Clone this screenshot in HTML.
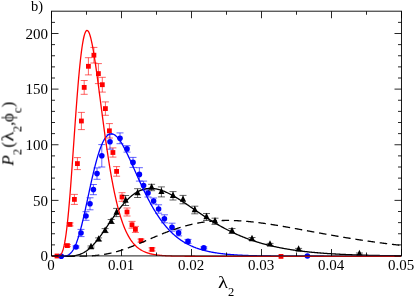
<!DOCTYPE html>
<html><head><meta charset="utf-8"><style>
html,body{margin:0;padding:0;background:#fff;}
body{width:415px;height:296px;position:relative;overflow:hidden;font-family:"Liberation Serif",serif;color:#000;}
.t{position:absolute;will-change:transform;font-size:15px;line-height:15px;white-space:nowrap;}
.yl{text-align:right;width:40px;left:7.5px;}
.xl{text-align:center;width:40px;}
sub{font-size:12.5px;line-height:0;vertical-align:baseline;position:relative;top:7.7px;}
.lam{display:inline-block;transform:scaleX(1.22);transform-origin:0 50%;margin-right:1.7px;}
</style></head><body>
<svg width="415" height="296" viewBox="0 0 415 296" style="position:absolute;left:0;top:0"><defs><clipPath id="c"><rect x="48.5" y="11.2" width="356.0" height="248.8"/></clipPath></defs><g clip-path="url(#c)"><path d="M67.4 244.6V246.6M63.9 244.6h7M63.9 246.6h7" stroke="#f00" stroke-width="0.62" fill="none"/><path d="M70.0 222.9V225.9M66.5 222.9h7M66.5 225.9h7" stroke="#f00" stroke-width="0.62" fill="none"/><path d="M74.4 194.4V204.4M70.9 194.4h7M70.9 204.4h7" stroke="#f00" stroke-width="0.62" fill="none"/><path d="M77.4 157.6V169.6M73.9 157.6h7M73.9 169.6h7" stroke="#f00" stroke-width="0.62" fill="none"/><path d="M81.4 112.4V129.6M77.9 112.4h7M77.9 129.6h7" stroke="#f00" stroke-width="0.62" fill="none"/><path d="M84.2 80.5V94.3M80.7 80.5h7M80.7 94.3h7" stroke="#f00" stroke-width="0.62" fill="none"/><path d="M88.4 57.7V74.9M84.9 57.7h7M84.9 74.9h7" stroke="#f00" stroke-width="0.62" fill="none"/><path d="M93.9 47.4V63.0M90.4 47.4h7M90.4 63.0h7" stroke="#f00" stroke-width="0.62" fill="none"/><path d="M98.4 63.6V83.6M94.9 63.6h7M94.9 83.6h7" stroke="#f00" stroke-width="0.62" fill="none"/><path d="M102.3 77.3V92.1M98.8 77.3h7M98.8 92.1h7" stroke="#f00" stroke-width="0.62" fill="none"/><path d="M105.4 101.9V115.3M101.9 101.9h7M101.9 115.3h7" stroke="#f00" stroke-width="0.62" fill="none"/><path d="M109.4 123.6V138.0M105.9 123.6h7M105.9 138.0h7" stroke="#f00" stroke-width="0.62" fill="none"/><path d="M112.9 147.9V157.1M109.4 147.9h7M109.4 157.1h7" stroke="#f00" stroke-width="0.62" fill="none"/><path d="M116.6 166.6V176.2M113.1 166.6h7M113.1 176.2h7" stroke="#f00" stroke-width="0.62" fill="none"/><path d="M122.0 192.7V201.3M118.5 192.7h7M118.5 201.3h7" stroke="#f00" stroke-width="0.62" fill="none"/><path d="M127.0 208.0V216.0M123.5 208.0h7M123.5 216.0h7" stroke="#f00" stroke-width="0.62" fill="none"/><path d="M132.0 221.4V228.2M128.5 221.4h7M128.5 228.2h7" stroke="#f00" stroke-width="0.62" fill="none"/><path d="M135.4 226.4V232.4M131.9 226.4h7M131.9 232.4h7" stroke="#f00" stroke-width="0.62" fill="none"/><path d="M141.0 239.1V242.1M137.5 239.1h7M137.5 242.1h7" stroke="#f00" stroke-width="0.62" fill="none"/><path d="M152.0 247.9V250.9M148.5 247.9h7M148.5 250.9h7" stroke="#f00" stroke-width="0.62" fill="none"/><rect x="54.6" y="253.6" width="4.8" height="4.8" fill="#f00"/><rect x="65.0" y="243.2" width="4.8" height="4.8" fill="#f00"/><rect x="67.6" y="222.0" width="4.8" height="4.8" fill="#f00"/><rect x="72.0" y="197.0" width="4.8" height="4.8" fill="#f00"/><rect x="75.0" y="161.2" width="4.8" height="4.8" fill="#f00"/><rect x="79.0" y="118.6" width="4.8" height="4.8" fill="#f00"/><rect x="81.8" y="85.0" width="4.8" height="4.8" fill="#f00"/><rect x="86.0" y="63.9" width="4.8" height="4.8" fill="#f00"/><rect x="91.5" y="52.8" width="4.8" height="4.8" fill="#f00"/><rect x="96.0" y="71.2" width="4.8" height="4.8" fill="#f00"/><rect x="99.9" y="82.3" width="4.8" height="4.8" fill="#f00"/><rect x="103.0" y="106.2" width="4.8" height="4.8" fill="#f00"/><rect x="107.0" y="128.4" width="4.8" height="4.8" fill="#f00"/><rect x="110.5" y="150.1" width="4.8" height="4.8" fill="#f00"/><rect x="114.2" y="169.0" width="4.8" height="4.8" fill="#f00"/><rect x="119.6" y="194.6" width="4.8" height="4.8" fill="#f00"/><rect x="124.6" y="209.6" width="4.8" height="4.8" fill="#f00"/><rect x="129.6" y="222.4" width="4.8" height="4.8" fill="#f00"/><rect x="133.0" y="227.0" width="4.8" height="4.8" fill="#f00"/><rect x="138.6" y="238.2" width="4.8" height="4.8" fill="#f00"/><rect x="149.6" y="247.0" width="4.8" height="4.8" fill="#f00"/><rect x="278.6" y="254.0" width="4.8" height="4.8" fill="#f00"/><path d="M76.0 246.0V248.0M72.5 246.0h7M72.5 248.0h7" stroke="#00f" stroke-width="0.62" fill="none"/><path d="M81.0 229.4V236.6M77.5 229.4h7M77.5 236.6h7" stroke="#00f" stroke-width="0.62" fill="none"/><path d="M86.0 211.7V220.3M82.5 211.7h7M82.5 220.3h7" stroke="#00f" stroke-width="0.62" fill="none"/><path d="M90.0 197.8V209.8M86.5 197.8h7M86.5 209.8h7" stroke="#00f" stroke-width="0.62" fill="none"/><path d="M93.4 184.5V194.7M89.9 184.5h7M89.9 194.7h7" stroke="#00f" stroke-width="0.62" fill="none"/><path d="M97.0 167.9V179.3M93.5 167.9h7M93.5 179.3h7" stroke="#00f" stroke-width="0.62" fill="none"/><path d="M101.8 144.6V167.0M98.3 144.6h7M98.3 167.0h7" stroke="#00f" stroke-width="0.62" fill="none"/><path d="M110.0 134.4V149.2M106.5 134.4h7M106.5 149.2h7" stroke="#00f" stroke-width="0.62" fill="none"/><path d="M120.0 132.9V143.7M116.5 132.9h7M116.5 143.7h7" stroke="#00f" stroke-width="0.62" fill="none"/><path d="M127.0 145.7V152.1M123.5 145.7h7M123.5 152.1h7" stroke="#00f" stroke-width="0.62" fill="none"/><path d="M133.0 157.4V167.4M129.5 157.4h7M129.5 167.4h7" stroke="#00f" stroke-width="0.62" fill="none"/><path d="M139.4 167.7V181.1M135.9 167.7h7M135.9 181.1h7" stroke="#00f" stroke-width="0.62" fill="none"/><path d="M143.6 181.1V190.1M140.1 181.1h7M140.1 190.1h7" stroke="#00f" stroke-width="0.62" fill="none"/><path d="M148.0 189.0V197.0M144.5 189.0h7M144.5 197.0h7" stroke="#00f" stroke-width="0.62" fill="none"/><path d="M153.6 198.0V204.0M150.1 198.0h7M150.1 204.0h7" stroke="#00f" stroke-width="0.62" fill="none"/><path d="M158.6 204.8V213.2M155.1 204.8h7M155.1 213.2h7" stroke="#00f" stroke-width="0.62" fill="none"/><path d="M164.4 214.8V222.8M160.9 214.8h7M160.9 222.8h7" stroke="#00f" stroke-width="0.62" fill="none"/><path d="M172.0 223.2V231.2M168.5 223.2h7M168.5 231.2h7" stroke="#00f" stroke-width="0.62" fill="none"/><path d="M178.6 229.9V235.9M175.1 229.9h7M175.1 235.9h7" stroke="#00f" stroke-width="0.62" fill="none"/><path d="M188.0 239.4V243.4M184.5 239.4h7M184.5 243.4h7" stroke="#00f" stroke-width="0.62" fill="none"/><path d="M203.8 246.9V248.9M200.3 246.9h7M200.3 248.9h7" stroke="#00f" stroke-width="0.62" fill="none"/><circle cx="61.3" cy="256.3" r="2.8" fill="#00f"/><circle cx="76.0" cy="247.0" r="2.8" fill="#00f"/><circle cx="81.0" cy="233.0" r="2.8" fill="#00f"/><circle cx="86.0" cy="216.0" r="2.8" fill="#00f"/><circle cx="90.0" cy="203.8" r="2.8" fill="#00f"/><circle cx="93.4" cy="189.6" r="2.8" fill="#00f"/><circle cx="97.0" cy="173.6" r="2.8" fill="#00f"/><circle cx="101.8" cy="155.8" r="2.8" fill="#00f"/><circle cx="110.0" cy="141.8" r="2.8" fill="#00f"/><circle cx="120.0" cy="138.3" r="2.8" fill="#00f"/><circle cx="127.0" cy="148.9" r="2.8" fill="#00f"/><circle cx="133.0" cy="162.4" r="2.8" fill="#00f"/><circle cx="139.4" cy="174.4" r="2.8" fill="#00f"/><circle cx="143.6" cy="185.6" r="2.8" fill="#00f"/><circle cx="148.0" cy="193.0" r="2.8" fill="#00f"/><circle cx="153.6" cy="201.0" r="2.8" fill="#00f"/><circle cx="158.6" cy="209.0" r="2.8" fill="#00f"/><circle cx="164.4" cy="218.8" r="2.8" fill="#00f"/><circle cx="172.0" cy="227.2" r="2.8" fill="#00f"/><circle cx="178.6" cy="232.9" r="2.8" fill="#00f"/><circle cx="188.0" cy="241.4" r="2.8" fill="#00f"/><circle cx="203.8" cy="247.9" r="2.8" fill="#00f"/><circle cx="307.4" cy="256.0" r="2.8" fill="#00f"/><path d="M91.0 246.0V248.0M87.5 246.0h7M87.5 248.0h7" stroke="#000" stroke-width="0.62" fill="none"/><path d="M98.6 237.9V240.9M95.1 237.9h7M95.1 240.9h7" stroke="#000" stroke-width="0.62" fill="none"/><path d="M105.1 228.6V232.6M101.6 228.6h7M101.6 232.6h7" stroke="#000" stroke-width="0.62" fill="none"/><path d="M111.2 219.5V223.5M107.7 219.5h7M107.7 223.5h7" stroke="#000" stroke-width="0.62" fill="none"/><path d="M116.6 208.4V216.6M113.1 208.4h7M113.1 216.6h7" stroke="#000" stroke-width="0.62" fill="none"/><path d="M125.6 195.5V205.5M122.1 195.5h7M122.1 205.5h7" stroke="#000" stroke-width="0.62" fill="none"/><path d="M137.6 188.7V197.5M134.1 188.7h7M134.1 197.5h7" stroke="#000" stroke-width="0.62" fill="none"/><path d="M151.6 184.3V190.7M148.1 184.3h7M148.1 190.7h7" stroke="#000" stroke-width="0.62" fill="none"/><path d="M161.4 186.9V196.9M157.9 186.9h7M157.9 196.9h7" stroke="#000" stroke-width="0.62" fill="none"/><path d="M173.0 191.6V200.0M169.5 191.6h7M169.5 200.0h7" stroke="#000" stroke-width="0.62" fill="none"/><path d="M183.0 195.4V203.8M179.5 195.4h7M179.5 203.8h7" stroke="#000" stroke-width="0.62" fill="none"/><path d="M194.8 206.2V213.8M191.3 206.2h7M191.3 213.8h7" stroke="#000" stroke-width="0.62" fill="none"/><path d="M206.5 213.5V220.5M203.0 213.5h7M203.0 220.5h7" stroke="#000" stroke-width="0.62" fill="none"/><path d="M215.0 218.2V224.4M211.5 218.2h7M211.5 224.4h7" stroke="#000" stroke-width="0.62" fill="none"/><path d="M232.0 228.5V233.5M228.5 228.5h7M228.5 233.5h7" stroke="#000" stroke-width="0.62" fill="none"/><path d="M252.0 237.5V240.5M248.5 237.5h7M248.5 240.5h7" stroke="#000" stroke-width="0.62" fill="none"/><path d="M270.0 243.4V245.4M266.5 243.4h7M266.5 245.4h7" stroke="#000" stroke-width="0.62" fill="none"/><path d="M298.6 248.4V250.4M295.1 248.4h7M295.1 250.4h7" stroke="#000" stroke-width="0.62" fill="none"/><path d="M359.4 253.0V255.0M355.9 253.0h7M355.9 255.0h7" stroke="#000" stroke-width="0.62" fill="none"/><path d="M91.0 242.8l3.1 6.4h-6.2z" fill="#000"/><path d="M98.6 235.2l3.1 6.4h-6.2z" fill="#000"/><path d="M105.1 226.4l3.1 6.4h-6.2z" fill="#000"/><path d="M111.2 217.3l3.1 6.4h-6.2z" fill="#000"/><path d="M116.6 208.3l3.1 6.4h-6.2z" fill="#000"/><path d="M125.6 196.3l3.1 6.4h-6.2z" fill="#000"/><path d="M137.6 188.9l3.1 6.4h-6.2z" fill="#000"/><path d="M151.6 183.3l3.1 6.4h-6.2z" fill="#000"/><path d="M161.4 187.7l3.1 6.4h-6.2z" fill="#000"/><path d="M173.0 191.6l3.1 6.4h-6.2z" fill="#000"/><path d="M183.0 195.4l3.1 6.4h-6.2z" fill="#000"/><path d="M194.8 205.8l3.1 6.4h-6.2z" fill="#000"/><path d="M206.5 212.8l3.1 6.4h-6.2z" fill="#000"/><path d="M215.0 217.1l3.1 6.4h-6.2z" fill="#000"/><path d="M232.0 226.8l3.1 6.4h-6.2z" fill="#000"/><path d="M252.0 234.8l3.1 6.4h-6.2z" fill="#000"/><path d="M270.0 240.2l3.1 6.4h-6.2z" fill="#000"/><path d="M298.6 245.2l3.1 6.4h-6.2z" fill="#000"/><path d="M359.4 249.8l3.1 6.4h-6.2z" fill="#000"/><path d="M52.00 256.30L52.03 256.30L52.53 256.30L53.03 256.30L53.53 256.30L54.03 256.30L54.53 256.30L55.03 256.30L55.53 256.30L56.03 256.30L56.53 256.30L57.03 256.30L57.53 256.30L58.03 256.30L58.52 256.30L59.02 256.30L59.52 256.30L60.02 256.30L60.52 256.30L61.02 256.30L61.52 256.30L62.02 256.30L62.52 256.30L63.02 256.30L63.52 256.30L64.02 256.30L64.52 256.30L65.02 256.30L65.51 256.30L66.01 256.30L66.51 256.30L67.01 256.30L67.51 256.30L68.01 256.30L68.51 256.30L69.01 256.30L69.51 256.30L70.01 256.30L70.51 256.30L71.01 256.29L71.51 256.29L72.00 256.29L72.50 256.29L73.00 256.29L73.50 256.29L74.00 256.29L74.50 256.28L75.00 256.28L75.50 256.28L76.00 256.27L76.50 256.27L77.00 256.27L77.50 256.26L78.00 256.26L78.49 256.25L78.99 256.25L79.49 256.24L79.99 256.23L80.49 256.22L80.99 256.22L81.49 256.21L81.99 256.20L82.49 256.19L82.99 256.18L83.49 256.16L83.99 256.15L84.49 256.14L84.98 256.12L85.48 256.10L85.98 256.09L86.48 256.07L86.98 256.05L87.48 256.03L87.98 256.01L88.48 255.98L88.98 255.96L89.48 255.93L89.98 255.91L90.48 255.88L90.98 255.85L91.47 255.81L91.97 255.78L92.47 255.75L92.97 255.71L93.47 255.67L93.97 255.63L94.47 255.59L94.97 255.55L95.47 255.50L95.97 255.45L96.47 255.41L96.97 255.36L97.47 255.30L97.96 255.25L98.46 255.19L98.96 255.13L99.46 255.07L99.96 255.01L100.46 254.94L100.96 254.88L101.46 254.81L101.96 254.74L102.46 254.66L102.96 254.59L103.46 254.51L103.96 254.43L104.45 254.35L104.95 254.26L105.45 254.17L105.95 254.08L106.45 253.99L106.95 253.90L107.45 253.80L107.95 253.70L108.45 253.60L108.95 253.50L109.45 253.39L109.95 253.29L110.45 253.18L110.94 253.06L111.44 252.95L111.94 252.83L112.44 252.71L112.94 252.59L113.44 252.47L113.94 252.34L114.44 252.21L114.94 252.08L115.44 251.95L115.94 251.82L116.44 251.68L116.94 251.54L117.43 251.40L117.93 251.26L118.43 251.11L118.93 250.96L119.43 250.81L119.93 250.66L120.43 250.51L120.93 250.35L121.43 250.19L121.93 250.03L122.43 249.87L122.93 249.71L123.43 249.54L123.92 249.37L124.42 249.20L124.92 249.03L125.42 248.86L125.92 248.69L126.42 248.51L126.92 248.33L127.42 248.15L127.92 247.97L128.42 247.79L128.92 247.61L129.42 247.42L129.92 247.23L130.41 247.04L130.91 246.85L131.41 246.66L131.91 246.47L132.41 246.28L132.91 246.08L133.41 245.89L133.91 245.69L134.41 245.49L134.91 245.29L135.41 245.09L135.91 244.89L136.41 244.69L136.90 244.48L137.40 244.28L137.90 244.07L138.40 243.87L138.90 243.66L139.40 243.45L139.90 243.25L140.40 243.04L140.90 242.83L141.40 242.62L141.90 242.41L142.40 242.20L142.90 241.99L143.39 241.78L143.89 241.56L144.39 241.35L144.89 241.14L145.39 240.93L145.89 240.71L146.39 240.50L146.89 240.29L147.39 240.07L147.89 239.86L148.39 239.65L148.89 239.43L149.39 239.22L149.88 239.01L150.38 238.79L150.88 238.58L151.38 238.37L151.88 238.16L152.38 237.94L152.88 237.73L153.38 237.52L153.88 237.31L154.38 237.10L154.88 236.89L155.38 236.68L155.88 236.47L156.37 236.26L156.87 236.05L157.37 235.85L157.87 235.64L158.37 235.43L158.87 235.23L159.37 235.02L159.87 234.82L160.37 234.62L160.87 234.41L161.37 234.21L161.87 234.01L162.37 233.81L162.87 233.61L163.36 233.41L163.86 233.22L164.36 233.02L164.86 232.83L165.36 232.63L165.86 232.44L166.36 232.25L166.86 232.06L167.36 231.87L167.86 231.68L168.36 231.49L168.86 231.31L169.36 231.12L169.85 230.94L170.35 230.76L170.85 230.58L171.35 230.40L171.85 230.22L172.35 230.04L172.85 229.87L173.35 229.69L173.85 229.52L174.35 229.35L174.85 229.18L175.35 229.01L175.85 228.84L176.34 228.68L176.84 228.51L177.34 228.35L177.84 228.19L178.34 228.03L178.84 227.87L179.34 227.72L179.84 227.56L180.34 227.41L180.84 227.26L181.34 227.11L181.84 226.96L182.34 226.81L182.83 226.66L183.33 226.52L183.83 226.38L184.33 226.24L184.83 226.10L185.33 225.96L185.83 225.83L186.33 225.69L186.83 225.56L187.33 225.43L187.83 225.30L188.33 225.18L188.83 225.05L189.32 224.93L189.82 224.81L190.32 224.69L190.82 224.57L191.32 224.45L191.82 224.34L192.32 224.22L192.82 224.11L193.32 224.00L193.82 223.89L194.32 223.79L194.82 223.68L195.32 223.58L195.81 223.48L196.31 223.38L196.81 223.28L197.31 223.19L197.81 223.09L198.31 223.00L198.81 222.91L199.31 222.82L199.81 222.73L200.31 222.65L200.81 222.56L201.31 222.48L201.81 222.40L202.30 222.32L202.80 222.25L203.30 222.17L203.80 222.10L204.30 222.02L204.80 221.95L205.30 221.89L205.80 221.82L206.30 221.75L206.80 221.69L207.30 221.63L207.80 221.57L208.30 221.51L208.79 221.45L209.29 221.40L209.79 221.35L210.29 221.29L210.79 221.24L211.29 221.20L211.79 221.15L212.29 221.10L212.79 221.06L213.29 221.02L213.79 220.98L214.29 220.94L214.79 220.90L215.28 220.86L215.78 220.83L216.28 220.80L216.78 220.77L217.28 220.74L217.78 220.71L218.28 220.68L218.78 220.66L219.28 220.63L219.78 220.61L220.28 220.59L220.78 220.57L221.28 220.55L221.77 220.54L222.27 220.52L222.77 220.51L223.27 220.50L223.77 220.49L224.27 220.48L224.77 220.47L225.27 220.46L225.77 220.46L226.27 220.46L226.77 220.45L227.27 220.45L227.77 220.45L228.26 220.46L228.76 220.46L229.26 220.46L229.76 220.47L230.26 220.48L230.76 220.48L231.26 220.49L231.76 220.50L232.26 220.52L232.76 220.53L233.26 220.54L233.76 220.56L234.26 220.58L234.75 220.59L235.25 220.61L235.75 220.63L236.25 220.66L236.75 220.68L237.25 220.70L237.75 220.73L238.25 220.75L238.75 220.78L239.25 220.81L239.75 220.84L240.25 220.87L240.75 220.90L241.24 220.93L241.74 220.97L242.24 221.00L242.74 221.04L243.24 221.08L243.74 221.11L244.24 221.15L244.74 221.19L245.24 221.23L245.74 221.27L246.24 221.32L246.74 221.36L247.24 221.40L247.73 221.45L248.23 221.50L248.73 221.54L249.23 221.59L249.73 221.64L250.23 221.69L250.73 221.74L251.23 221.79L251.73 221.85L252.23 221.90L252.73 221.95L253.23 222.01L253.73 222.06L254.22 222.12L254.72 222.18L255.22 222.23L255.72 222.29L256.22 222.35L256.72 222.41L257.22 222.47L257.72 222.54L258.22 222.60L258.72 222.66L259.22 222.72L259.72 222.79L260.22 222.85L260.72 222.92L261.21 222.99L261.71 223.05L262.21 223.12L262.71 223.19L263.21 223.26L263.71 223.33L264.21 223.40L264.71 223.47L265.21 223.54L265.71 223.61L266.21 223.68L266.71 223.76L267.21 223.83L267.70 223.90L268.20 223.98L268.70 224.05L269.20 224.13L269.70 224.20L270.20 224.28L270.70 224.36L271.20 224.44L271.70 224.51L272.20 224.59L272.70 224.67L273.20 224.75L273.70 224.83L274.19 224.91L274.69 224.99L275.19 225.07L275.69 225.15L276.19 225.23L276.69 225.31L277.19 225.40L277.69 225.48L278.19 225.56L278.69 225.65L279.19 225.73L279.69 225.81L280.19 225.90L280.68 225.98L281.18 226.07L281.68 226.15L282.18 226.24L282.68 226.32L283.18 226.41L283.68 226.50L284.18 226.58L284.68 226.67L285.18 226.76L285.68 226.85L286.18 226.93L286.68 227.02L287.17 227.11L287.67 227.20L288.17 227.29L288.67 227.38L289.17 227.46L289.67 227.55L290.17 227.64L290.67 227.73L291.17 227.82L291.67 227.91L292.17 228.00L292.67 228.09L293.17 228.18L293.66 228.27L294.16 228.36L294.66 228.45L295.16 228.55L295.66 228.64L296.16 228.73L296.66 228.82L297.16 228.91L297.66 229.00L298.16 229.09L298.66 229.19L299.16 229.28L299.66 229.37L300.15 229.46L300.65 229.55L301.15 229.64L301.65 229.74L302.15 229.83L302.65 229.92L303.15 230.01L303.65 230.11L304.15 230.20L304.65 230.29L305.15 230.38L305.65 230.47L306.15 230.57L306.64 230.66L307.14 230.75L307.64 230.84L308.14 230.94L308.64 231.03L309.14 231.12L309.64 231.21L310.14 231.31L310.64 231.40L311.14 231.49L311.64 231.58L312.14 231.67L312.64 231.77L313.13 231.86L313.63 231.95L314.13 232.04L314.63 232.13L315.13 232.23L315.63 232.32L316.13 232.41L316.63 232.50L317.13 232.59L317.63 232.69L318.13 232.78L318.63 232.87L319.13 232.96L319.62 233.05L320.12 233.14L320.62 233.23L321.12 233.32L321.62 233.41L322.12 233.50L322.62 233.60L323.12 233.69L323.62 233.78L324.12 233.87L324.62 233.96L325.12 234.05L325.62 234.14L326.11 234.23L326.61 234.32L327.11 234.41L327.61 234.49L328.11 234.58L328.61 234.67L329.11 234.76L329.61 234.85L330.11 234.94L330.61 235.03L331.11 235.12L331.61 235.20L332.11 235.29L332.60 235.38L333.10 235.47L333.60 235.55L334.10 235.64L334.60 235.73L335.10 235.82L335.60 235.90L336.10 235.99L336.60 236.08L337.10 236.16L337.60 236.25L338.10 236.33L338.60 236.42L339.09 236.51L339.59 236.59L340.09 236.68L340.59 236.76L341.09 236.85L341.59 236.93L342.09 237.02L342.59 237.10L343.09 237.18L343.59 237.27L344.09 237.35L344.59 237.43L345.09 237.52L345.58 237.60L346.08 237.68L346.58 237.77L347.08 237.85L347.58 237.93L348.08 238.01L348.58 238.09L349.08 238.18L349.58 238.26L350.08 238.34L350.58 238.42L351.08 238.50L351.58 238.58L352.07 238.66L352.57 238.74L353.07 238.82L353.57 238.90L354.07 238.98L354.57 239.06L355.07 239.14L355.57 239.21L356.07 239.29L356.57 239.37L357.07 239.45L357.57 239.53L358.07 239.60L358.57 239.68L359.06 239.76L359.56 239.83L360.06 239.91L360.56 239.99L361.06 240.06L361.56 240.14L362.06 240.21L362.56 240.29L363.06 240.37L363.56 240.44L364.06 240.51L364.56 240.59L365.06 240.66L365.55 240.74L366.05 240.81L366.55 240.88L367.05 240.96L367.55 241.03L368.05 241.10L368.55 241.17L369.05 241.25L369.55 241.32L370.05 241.39L370.55 241.46L371.05 241.53L371.55 241.60L372.04 241.67L372.54 241.74L373.04 241.82L373.54 241.89L374.04 241.95L374.54 242.02L375.04 242.09L375.54 242.16L376.04 242.23L376.54 242.30L377.04 242.37L377.54 242.44L378.04 242.50L378.53 242.57L379.03 242.64L379.53 242.70L380.03 242.77L380.53 242.84L381.03 242.90L381.53 242.97L382.03 243.04L382.53 243.10L383.03 243.17L383.53 243.23L384.03 243.30L384.53 243.36L385.02 243.42L385.52 243.49L386.02 243.55L386.52 243.62L387.02 243.68L387.52 243.74L388.02 243.81L388.52 243.87L389.02 243.93L389.52 243.99L390.02 244.05L390.52 244.12L391.02 244.18L391.51 244.24L392.01 244.30L392.51 244.36L393.01 244.42L393.51 244.48L394.01 244.54L394.51 244.60L395.01 244.66L395.51 244.72L396.01 244.78L396.51 244.83L397.01 244.89L397.51 244.95L398.00 245.01L398.50 245.07L399.00 245.12L399.50 245.18L400.00 245.24L400.50 245.29L401.00 245.35" stroke="#000" stroke-width="1.3" fill="none" stroke-dasharray="7.5 4.8" stroke-dashoffset="-3"/><path d="M52.00 256.30L52.03 256.30L52.53 256.30L53.03 256.30L53.53 256.30L54.03 256.30L54.53 256.30L55.03 256.30L55.53 256.30L56.03 256.30L56.53 256.30L57.03 256.30L57.53 256.30L58.03 256.30L58.52 256.30L59.02 256.30L59.52 256.30L60.02 256.30L60.52 256.30L61.02 256.30L61.52 256.30L62.02 256.30L62.52 256.30L63.02 256.30L63.52 256.29L64.02 256.29L64.52 256.29L65.02 256.28L65.51 256.28L66.01 256.27L66.51 256.26L67.01 256.26L67.51 256.24L68.01 256.23L68.51 256.21L69.01 256.20L69.51 256.17L70.01 256.15L70.51 256.12L71.01 256.09L71.51 256.05L72.00 256.01L72.50 255.96L73.00 255.91L73.50 255.85L74.00 255.78L74.50 255.71L75.00 255.63L75.50 255.54L76.00 255.44L76.50 255.34L77.00 255.22L77.50 255.10L78.00 254.96L78.49 254.82L78.99 254.66L79.49 254.50L79.99 254.32L80.49 254.13L80.99 253.93L81.49 253.72L81.99 253.49L82.49 253.26L82.99 253.00L83.49 252.74L83.99 252.46L84.49 252.17L84.98 251.87L85.48 251.55L85.98 251.21L86.48 250.87L86.98 250.51L87.48 250.13L87.98 249.75L88.48 249.34L88.98 248.93L89.48 248.50L89.98 248.05L90.48 247.60L90.98 247.12L91.47 246.64L91.97 246.14L92.47 245.63L92.97 245.11L93.47 244.58L93.97 244.03L94.47 243.47L94.97 242.90L95.47 242.32L95.97 241.72L96.47 241.12L96.97 240.50L97.47 239.88L97.96 239.25L98.46 238.60L98.96 237.95L99.46 237.29L99.96 236.62L100.46 235.95L100.96 235.27L101.46 234.58L101.96 233.88L102.46 233.18L102.96 232.47L103.46 231.76L103.96 231.04L104.45 230.32L104.95 229.60L105.45 228.87L105.95 228.14L106.45 227.41L106.95 226.67L107.45 225.94L107.95 225.20L108.45 224.46L108.95 223.73L109.45 222.99L109.95 222.25L110.45 221.52L110.94 220.78L111.44 220.05L111.94 219.32L112.44 218.59L112.94 217.87L113.44 217.15L113.94 216.43L114.44 215.72L114.94 215.01L115.44 214.31L115.94 213.61L116.44 212.92L116.94 212.24L117.43 211.56L117.93 210.88L118.43 210.22L118.93 209.56L119.43 208.90L119.93 208.26L120.43 207.62L120.93 207.00L121.43 206.38L121.93 205.76L122.43 205.16L122.93 204.57L123.43 203.98L123.92 203.41L124.42 202.84L124.92 202.29L125.42 201.74L125.92 201.21L126.42 200.68L126.92 200.17L127.42 199.66L127.92 199.17L128.42 198.69L128.92 198.21L129.42 197.75L129.92 197.30L130.41 196.86L130.91 196.43L131.41 196.02L131.91 195.61L132.41 195.22L132.91 194.83L133.41 194.46L133.91 194.10L134.41 193.75L134.91 193.41L135.41 193.09L135.91 192.77L136.41 192.47L136.90 192.18L137.40 191.90L137.90 191.63L138.40 191.37L138.90 191.12L139.40 190.89L139.90 190.66L140.40 190.45L140.90 190.24L141.40 190.05L141.90 189.87L142.40 189.70L142.90 189.54L143.39 189.40L143.89 189.26L144.39 189.13L144.89 189.02L145.39 188.91L145.89 188.81L146.39 188.73L146.89 188.65L147.39 188.59L147.89 188.53L148.39 188.49L148.89 188.45L149.39 188.42L149.88 188.41L150.38 188.40L150.88 188.40L151.38 188.41L151.88 188.43L152.38 188.46L152.88 188.49L153.38 188.54L153.88 188.59L154.38 188.65L154.88 188.72L155.38 188.80L155.88 188.89L156.37 188.98L156.87 189.08L157.37 189.19L157.87 189.31L158.37 189.43L158.87 189.56L159.37 189.70L159.87 189.85L160.37 190.00L160.87 190.16L161.37 190.32L161.87 190.49L162.37 190.67L162.87 190.85L163.36 191.04L163.86 191.23L164.36 191.43L164.86 191.64L165.36 191.85L165.86 192.07L166.36 192.29L166.86 192.52L167.36 192.75L167.86 192.99L168.36 193.23L168.86 193.47L169.36 193.72L169.85 193.98L170.35 194.24L170.85 194.50L171.35 194.77L171.85 195.04L172.35 195.31L172.85 195.59L173.35 195.87L173.85 196.15L174.35 196.44L174.85 196.73L175.35 197.03L175.85 197.32L176.34 197.62L176.84 197.92L177.34 198.23L177.84 198.54L178.34 198.85L178.84 199.16L179.34 199.47L179.84 199.79L180.34 200.11L180.84 200.43L181.34 200.75L181.84 201.07L182.34 201.40L182.83 201.73L183.33 202.05L183.83 202.38L184.33 202.71L184.83 203.05L185.33 203.38L185.83 203.71L186.33 204.05L186.83 204.39L187.33 204.72L187.83 205.06L188.33 205.40L188.83 205.74L189.32 206.08L189.82 206.42L190.32 206.76L190.82 207.10L191.32 207.44L191.82 207.78L192.32 208.12L192.82 208.46L193.32 208.80L193.82 209.14L194.32 209.49L194.82 209.83L195.32 210.17L195.81 210.51L196.31 210.85L196.81 211.19L197.31 211.53L197.81 211.87L198.31 212.20L198.81 212.54L199.31 212.88L199.81 213.21L200.31 213.55L200.81 213.88L201.31 214.22L201.81 214.55L202.30 214.88L202.80 215.22L203.30 215.55L203.80 215.88L204.30 216.20L204.80 216.53L205.30 216.86L205.80 217.18L206.30 217.51L206.80 217.83L207.30 218.15L207.80 218.47L208.30 218.79L208.79 219.11L209.29 219.42L209.79 219.74L210.29 220.05L210.79 220.36L211.29 220.68L211.79 220.98L212.29 221.29L212.79 221.60L213.29 221.90L213.79 222.21L214.29 222.51L214.79 222.81L215.28 223.11L215.78 223.41L216.28 223.70L216.78 223.99L217.28 224.29L217.78 224.58L218.28 224.87L218.78 225.15L219.28 225.44L219.78 225.72L220.28 226.01L220.78 226.29L221.28 226.56L221.77 226.84L222.27 227.12L222.77 227.39L223.27 227.66L223.77 227.93L224.27 228.20L224.77 228.47L225.27 228.73L225.77 228.99L226.27 229.26L226.77 229.52L227.27 229.77L227.77 230.03L228.26 230.28L228.76 230.54L229.26 230.79L229.76 231.03L230.26 231.28L230.76 231.53L231.26 231.77L231.76 232.01L232.26 232.25L232.76 232.49L233.26 232.72L233.76 232.96L234.26 233.19L234.75 233.42L235.25 233.65L235.75 233.88L236.25 234.10L236.75 234.33L237.25 234.55L237.75 234.77L238.25 234.99L238.75 235.20L239.25 235.42L239.75 235.63L240.25 235.84L240.75 236.05L241.24 236.26L241.74 236.46L242.24 236.67L242.74 236.87L243.24 237.07L243.74 237.27L244.24 237.47L244.74 237.66L245.24 237.86L245.74 238.05L246.24 238.24L246.74 238.43L247.24 238.62L247.73 238.80L248.23 238.99L248.73 239.17L249.23 239.35L249.73 239.53L250.23 239.71L250.73 239.88L251.23 240.06L251.73 240.23L252.23 240.40L252.73 240.57L253.23 240.74L253.73 240.91L254.22 241.07L254.72 241.24L255.22 241.40L255.72 241.56L256.22 241.72L256.72 241.88L257.22 242.03L257.72 242.19L258.22 242.34L258.72 242.49L259.22 242.64L259.72 242.79L260.22 242.94L260.72 243.08L261.21 243.23L261.71 243.37L262.21 243.51L262.71 243.65L263.21 243.79L263.71 243.93L264.21 244.07L264.71 244.20L265.21 244.33L265.71 244.47L266.21 244.60L266.71 244.73L267.21 244.86L267.70 244.98L268.20 245.11L268.70 245.23L269.20 245.36L269.70 245.48L270.20 245.60L270.70 245.72L271.20 245.84L271.70 245.95L272.20 246.07L272.70 246.19L273.20 246.30L273.70 246.41L274.19 246.52L274.69 246.63L275.19 246.74L275.69 246.85L276.19 246.96L276.69 247.06L277.19 247.17L277.69 247.27L278.19 247.37L278.69 247.48L279.19 247.58L279.69 247.67L280.19 247.77L280.68 247.87L281.18 247.97L281.68 248.06L282.18 248.16L282.68 248.25L283.18 248.34L283.68 248.43L284.18 248.52L284.68 248.61L285.18 248.70L285.68 248.79L286.18 248.87L286.68 248.96L287.17 249.04L287.67 249.13L288.17 249.21L288.67 249.29L289.17 249.37L289.67 249.45L290.17 249.53L290.67 249.61L291.17 249.69L291.67 249.77L292.17 249.84L292.67 249.92L293.17 249.99L293.66 250.06L294.16 250.14L294.66 250.21L295.16 250.28L295.66 250.35L296.16 250.42L296.66 250.49L297.16 250.56L297.66 250.62L298.16 250.69L298.66 250.75L299.16 250.82L299.66 250.88L300.15 250.95L300.65 251.01L301.15 251.07L301.65 251.13L302.15 251.19L302.65 251.25L303.15 251.31L303.65 251.37L304.15 251.43L304.65 251.49L305.15 251.54L305.65 251.60L306.15 251.66L306.64 251.71L307.14 251.77L307.64 251.82L308.14 251.87L308.64 251.92L309.14 251.98L309.64 252.03L310.14 252.08L310.64 252.13L311.14 252.18L311.64 252.23L312.14 252.28L312.64 252.32L313.13 252.37L313.63 252.42L314.13 252.46L314.63 252.51L315.13 252.55L315.63 252.60L316.13 252.64L316.63 252.69L317.13 252.73L317.63 252.77L318.13 252.81L318.63 252.86L319.13 252.90L319.62 252.94L320.12 252.98L320.62 253.02L321.12 253.06L321.62 253.10L322.12 253.13L322.62 253.17L323.12 253.21L323.62 253.25L324.12 253.28L324.62 253.32L325.12 253.36L325.62 253.39L326.11 253.43L326.61 253.46L327.11 253.49L327.61 253.53L328.11 253.56L328.61 253.59L329.11 253.63L329.61 253.66L330.11 253.69L330.61 253.72L331.11 253.75L331.61 253.78L332.11 253.81L332.60 253.84L333.10 253.87L333.60 253.90L334.10 253.93L334.60 253.96L335.10 253.99L335.60 254.02L336.10 254.04L336.60 254.07L337.10 254.10L337.60 254.13L338.10 254.15L338.60 254.18L339.09 254.20L339.59 254.23L340.09 254.25L340.59 254.28L341.09 254.30L341.59 254.33L342.09 254.35L342.59 254.38L343.09 254.40L343.59 254.42L344.09 254.44L344.59 254.47L345.09 254.49L345.58 254.51L346.08 254.53L346.58 254.55L347.08 254.58L347.58 254.60L348.08 254.62L348.58 254.64L349.08 254.66L349.58 254.68L350.08 254.70L350.58 254.72L351.08 254.74L351.58 254.76L352.07 254.77L352.57 254.79L353.07 254.81L353.57 254.83L354.07 254.85L354.57 254.87L355.07 254.88L355.57 254.90L356.07 254.92L356.57 254.93L357.07 254.95L357.57 254.97L358.07 254.98L358.57 255.00L359.06 255.02L359.56 255.03L360.06 255.05L360.56 255.06L361.06 255.08L361.56 255.09L362.06 255.11L362.56 255.12L363.06 255.14L363.56 255.15L364.06 255.16L364.56 255.18L365.06 255.19L365.55 255.20L366.05 255.22L366.55 255.23L367.05 255.24L367.55 255.26L368.05 255.27L368.55 255.28L369.05 255.30L369.55 255.31L370.05 255.32L370.55 255.33L371.05 255.34L371.55 255.36L372.04 255.37L372.54 255.38L373.04 255.39L373.54 255.40L374.04 255.41L374.54 255.42L375.04 255.43L375.54 255.44L376.04 255.45L376.54 255.47L377.04 255.48L377.54 255.49L378.04 255.50L378.53 255.51L379.03 255.51L379.53 255.52L380.03 255.53L380.53 255.54L381.03 255.55L381.53 255.56L382.03 255.57L382.53 255.58L383.03 255.59L383.53 255.60L384.03 255.61L384.53 255.61L385.02 255.62L385.52 255.63L386.02 255.64L386.52 255.65L387.02 255.66L387.52 255.66L388.02 255.67L388.52 255.68L389.02 255.69L389.52 255.69L390.02 255.70L390.52 255.71L391.02 255.72L391.51 255.72L392.01 255.73L392.51 255.74L393.01 255.74L393.51 255.75L394.01 255.76L394.51 255.76L395.01 255.77L395.51 255.78L396.01 255.78L396.51 255.79L397.01 255.80L397.51 255.80L398.00 255.81L398.50 255.82L399.00 255.82L399.50 255.83L400.00 255.83L400.50 255.84L401.00 255.84" stroke="#000" stroke-width="1.3" fill="none"/><path d="M52.00 256.30L52.03 256.30L52.53 256.30L53.03 256.30L53.53 256.30L54.03 256.30L54.53 256.30L55.03 256.30L55.53 256.30L56.03 256.30L56.53 256.30L57.03 256.30L57.53 256.30L58.03 256.30L58.52 256.30L59.02 256.30L59.52 256.30L60.02 256.29L60.52 256.29L61.02 256.28L61.52 256.28L62.02 256.26L62.52 256.25L63.02 256.22L63.52 256.19L64.02 256.14L64.52 256.09L65.02 256.01L65.51 255.92L66.01 255.81L66.51 255.67L67.01 255.51L67.51 255.31L68.01 255.08L68.51 254.81L69.01 254.50L69.51 254.14L70.01 253.73L70.51 253.27L71.01 252.75L71.51 252.17L72.00 251.54L72.50 250.83L73.00 250.06L73.50 249.22L74.00 248.31L74.50 247.32L75.00 246.27L75.50 245.13L76.00 243.93L76.50 242.65L77.00 241.29L77.50 239.86L78.00 238.36L78.49 236.79L78.99 235.15L79.49 233.44L79.99 231.67L80.49 229.83L80.99 227.94L81.49 225.99L81.99 223.99L82.49 221.93L82.99 219.84L83.49 217.70L83.99 215.52L84.49 213.31L84.98 211.07L85.48 208.80L85.98 206.51L86.48 204.21L86.98 201.89L87.48 199.56L87.98 197.23L88.48 194.90L88.98 192.58L89.48 190.26L89.98 187.96L90.48 185.67L90.98 183.39L91.47 181.15L91.97 178.93L92.47 176.74L92.97 174.58L93.47 172.46L93.97 170.38L94.47 168.34L94.97 166.35L95.47 164.40L95.97 162.50L96.47 160.65L96.97 158.86L97.47 157.12L97.96 155.44L98.46 153.82L98.96 152.26L99.46 150.76L99.96 149.32L100.46 147.94L100.96 146.63L101.46 145.38L101.96 144.19L102.46 143.07L102.96 142.02L103.46 141.03L103.96 140.11L104.45 139.25L104.95 138.45L105.45 137.72L105.95 137.06L106.45 136.46L106.95 135.92L107.45 135.44L107.95 135.03L108.45 134.67L108.95 134.38L109.45 134.14L109.95 133.96L110.45 133.84L110.94 133.78L111.44 133.76L111.94 133.81L112.44 133.90L112.94 134.04L113.44 134.24L113.94 134.48L114.44 134.77L114.94 135.10L115.44 135.48L115.94 135.90L116.44 136.36L116.94 136.86L117.43 137.40L117.93 137.98L118.43 138.60L118.93 139.24L119.43 139.92L119.93 140.64L120.43 141.38L120.93 142.15L121.43 142.95L121.93 143.78L122.43 144.63L122.93 145.50L123.43 146.40L123.92 147.32L124.42 148.26L124.92 149.22L125.42 150.19L125.92 151.19L126.42 152.19L126.92 153.22L127.42 154.25L127.92 155.30L128.42 156.36L128.92 157.43L129.42 158.51L129.92 159.59L130.41 160.69L130.91 161.79L131.41 162.89L131.91 164.01L132.41 165.12L132.91 166.24L133.41 167.36L133.91 168.49L134.41 169.61L134.91 170.74L135.41 171.86L135.91 172.98L136.41 174.11L136.90 175.23L137.40 176.34L137.90 177.46L138.40 178.57L138.90 179.68L139.40 180.78L139.90 181.88L140.40 182.97L140.90 184.05L141.40 185.13L141.90 186.21L142.40 187.27L142.90 188.33L143.39 189.38L143.89 190.43L144.39 191.46L144.89 192.49L145.39 193.50L145.89 194.51L146.39 195.51L146.89 196.50L147.39 197.48L147.89 198.45L148.39 199.42L148.89 200.37L149.39 201.31L149.88 202.24L150.38 203.16L150.88 204.07L151.38 204.97L151.88 205.86L152.38 206.73L152.88 207.60L153.38 208.46L153.88 209.30L154.38 210.14L154.88 210.96L155.38 211.78L155.88 212.58L156.37 213.37L156.87 214.15L157.37 214.92L157.87 215.68L158.37 216.43L158.87 217.17L159.37 217.89L159.87 218.61L160.37 219.31L160.87 220.01L161.37 220.69L161.87 221.37L162.37 222.03L162.87 222.68L163.36 223.32L163.86 223.96L164.36 224.58L164.86 225.19L165.36 225.79L165.86 226.39L166.36 226.97L166.86 227.54L167.36 228.11L167.86 228.66L168.36 229.21L168.86 229.74L169.36 230.27L169.85 230.79L170.35 231.29L170.85 231.79L171.35 232.29L171.85 232.77L172.35 233.24L172.85 233.71L173.35 234.16L173.85 234.61L174.35 235.05L174.85 235.49L175.35 235.91L175.85 236.33L176.34 236.74L176.84 237.14L177.34 237.53L177.84 237.92L178.34 238.30L178.84 238.67L179.34 239.04L179.84 239.40L180.34 239.75L180.84 240.09L181.34 240.43L181.84 240.76L182.34 241.09L182.83 241.41L183.33 241.72L183.83 242.03L184.33 242.33L184.83 242.63L185.33 242.92L185.83 243.20L186.33 243.48L186.83 243.75L187.33 244.02L187.83 244.28L188.33 244.54L188.83 244.79L189.32 245.03L189.82 245.27L190.32 245.51L190.82 245.74L191.32 245.97L191.82 246.19L192.32 246.41L192.82 246.62L193.32 246.83L193.82 247.04L194.32 247.24L194.82 247.44L195.32 247.63L195.81 247.82L196.31 248.00L196.81 248.18L197.31 248.36L197.81 248.53L198.31 248.70L198.81 248.87L199.31 249.03L199.81 249.19L200.31 249.35L200.81 249.50L201.31 249.65L201.81 249.79L202.30 249.94L202.80 250.08L203.30 250.21L203.80 250.35L204.30 250.48L204.80 250.61L205.30 250.73L205.80 250.86L206.30 250.98L206.80 251.09L207.30 251.21L207.80 251.32L208.30 251.43L208.79 251.54L209.29 251.65L209.79 251.75L210.29 251.85L210.79 251.95L211.29 252.05L211.79 252.14L212.29 252.24L212.79 252.33L213.29 252.41L213.79 252.50L214.29 252.59L214.79 252.67L215.28 252.75L215.78 252.83L216.28 252.91L216.78 252.98L217.28 253.06L217.78 253.13L218.28 253.20L218.78 253.27L219.28 253.34L219.78 253.41L220.28 253.47L220.78 253.53L221.28 253.60L221.77 253.66L222.27 253.72L222.77 253.77L223.27 253.83L223.77 253.89L224.27 253.94L224.77 253.99L225.27 254.05L225.77 254.10L226.27 254.15L226.77 254.20L227.27 254.24L227.77 254.29L228.26 254.33L228.76 254.38L229.26 254.42L229.76 254.47L230.26 254.51L230.76 254.55L231.26 254.59L231.76 254.63L232.26 254.66L232.76 254.70L233.26 254.74L233.76 254.77L234.26 254.81L234.75 254.84L235.25 254.87L235.75 254.91L236.25 254.94L236.75 254.97L237.25 255.00L237.75 255.03L238.25 255.06L238.75 255.08L239.25 255.11L239.75 255.14L240.25 255.17L240.75 255.19L241.24 255.22L241.74 255.24L242.24 255.27L242.74 255.29L243.24 255.31L243.74 255.33L244.24 255.36L244.74 255.38L245.24 255.40L245.74 255.42L246.24 255.44L246.74 255.46L247.24 255.48L247.73 255.50L248.23 255.51L248.73 255.53L249.23 255.55L249.73 255.57L250.23 255.58L250.73 255.60L251.23 255.62L251.73 255.63L252.23 255.65L252.73 255.66L253.23 255.68L253.73 255.69L254.22 255.70L254.72 255.72L255.22 255.73L255.72 255.74L256.22 255.76L256.72 255.77L257.22 255.78L257.72 255.79L258.22 255.80L258.72 255.81L259.22 255.83L259.72 255.84L260.22 255.85L260.72 255.86L261.21 255.87L261.71 255.88L262.21 255.89L262.71 255.90L263.21 255.91L263.71 255.91L264.21 255.92L264.71 255.93L265.21 255.94L265.71 255.95L266.21 255.96L266.71 255.96L267.21 255.97L267.70 255.98L268.20 255.99L268.70 255.99L269.20 256.00L269.70 256.01L270.20 256.01L270.70 256.02L271.20 256.03L271.70 256.03L272.20 256.04L272.70 256.04L273.20 256.05L273.70 256.06L274.19 256.06L274.69 256.07L275.19 256.07L275.69 256.08L276.19 256.08L276.69 256.09L277.19 256.09L277.69 256.10L278.19 256.10L278.69 256.11L279.19 256.11L279.69 256.11L280.19 256.12L280.68 256.12L281.18 256.13L281.68 256.13L282.18 256.13L282.68 256.14L283.18 256.14L283.68 256.15L284.18 256.15L284.68 256.15L285.18 256.16L285.68 256.16L286.18 256.16L286.68 256.17L287.17 256.17L287.67 256.17L288.17 256.17L288.67 256.18L289.17 256.18L289.67 256.18L290.17 256.19L290.67 256.19L291.17 256.19L291.67 256.19L292.17 256.20L292.67 256.20L293.17 256.20L293.66 256.20L294.16 256.20L294.66 256.21L295.16 256.21L295.66 256.21L296.16 256.21L296.66 256.21L297.16 256.22L297.66 256.22L298.16 256.22L298.66 256.22L299.16 256.22L299.66 256.23L300.15 256.23L300.65 256.23L301.15 256.23L301.65 256.23L302.15 256.23L302.65 256.23L303.15 256.24L303.65 256.24L304.15 256.24L304.65 256.24L305.15 256.24L305.65 256.24L306.15 256.24L306.64 256.25L307.14 256.25L307.64 256.25L308.14 256.25L308.64 256.25L309.14 256.25L309.64 256.25L310.14 256.25L310.64 256.25L311.14 256.26L311.64 256.26L312.14 256.26L312.64 256.26L313.13 256.26L313.63 256.26L314.13 256.26L314.63 256.26L315.13 256.26L315.63 256.26L316.13 256.26L316.63 256.27L317.13 256.27L317.63 256.27L318.13 256.27L318.63 256.27L319.13 256.27L319.62 256.27L320.12 256.27L320.62 256.27L321.12 256.27L321.62 256.27L322.12 256.27L322.62 256.27L323.12 256.27L323.62 256.27L324.12 256.28L324.62 256.28L325.12 256.28L325.62 256.28L326.11 256.28L326.61 256.28L327.11 256.28L327.61 256.28L328.11 256.28L328.61 256.28L329.11 256.28L329.61 256.28L330.11 256.28L330.61 256.28L331.11 256.28L331.61 256.28L332.11 256.28L332.60 256.28L333.10 256.28L333.60 256.28L334.10 256.28L334.60 256.28L335.10 256.28L335.60 256.29L336.10 256.29L336.60 256.29L337.10 256.29L337.60 256.29L338.10 256.29L338.60 256.29L339.09 256.29L339.59 256.29L340.09 256.29L340.59 256.29L341.09 256.29L341.59 256.29L342.09 256.29L342.59 256.29L343.09 256.29L343.59 256.29L344.09 256.29L344.59 256.29L345.09 256.29L345.58 256.29L346.08 256.29L346.58 256.29L347.08 256.29L347.58 256.29L348.08 256.29L348.58 256.29L349.08 256.29L349.58 256.29L350.08 256.29L350.58 256.29L351.08 256.29L351.58 256.29L352.07 256.29L352.57 256.29L353.07 256.29L353.57 256.29L354.07 256.29L354.57 256.29L355.07 256.29L355.57 256.29L356.07 256.29L356.57 256.29L357.07 256.29L357.57 256.29L358.07 256.29L358.57 256.29L359.06 256.29L359.56 256.29L360.06 256.29L360.56 256.30L361.06 256.30L361.56 256.30L362.06 256.30L362.56 256.30L363.06 256.30L363.56 256.30L364.06 256.30L364.56 256.30L365.06 256.30L365.55 256.30L366.05 256.30L366.55 256.30L367.05 256.30L367.55 256.30L368.05 256.30L368.55 256.30L369.05 256.30L369.55 256.30L370.05 256.30L370.55 256.30L371.05 256.30L371.55 256.30L372.04 256.30L372.54 256.30L373.04 256.30L373.54 256.30L374.04 256.30L374.54 256.30L375.04 256.30L375.54 256.30L376.04 256.30L376.54 256.30L377.04 256.30L377.54 256.30L378.04 256.30L378.53 256.30L379.03 256.30L379.53 256.30L380.03 256.30L380.53 256.30L381.03 256.30L381.53 256.30L382.03 256.30L382.53 256.30L383.03 256.30L383.53 256.30L384.03 256.30L384.53 256.30L385.02 256.30L385.52 256.30L386.02 256.30L386.52 256.30L387.02 256.30L387.52 256.30L388.02 256.30L388.52 256.30L389.02 256.30L389.52 256.30L390.02 256.30L390.52 256.30L391.02 256.30L391.51 256.30L392.01 256.30L392.51 256.30L393.01 256.30L393.51 256.30L394.01 256.30L394.51 256.30L395.01 256.30L395.51 256.30L396.01 256.30L396.51 256.30L397.01 256.30L397.51 256.30L398.00 256.30L398.50 256.30L399.00 256.30L399.50 256.30L400.00 256.30L400.50 256.30L401.00 256.30" stroke="#00f" stroke-width="1.3" fill="none"/><path d="M52.00 256.30L52.03 256.30L52.53 256.30L53.03 256.30L53.53 256.30L54.03 256.30L54.53 256.30L55.03 256.30L55.53 256.30L56.03 256.29L56.53 256.28L57.03 256.26L57.53 256.22L58.03 256.16L58.52 256.06L59.02 255.89L59.52 255.66L60.02 255.33L60.52 254.88L61.02 254.28L61.52 253.51L62.02 252.53L62.52 251.33L63.02 249.87L63.52 248.13L64.02 246.08L64.52 243.70L65.02 240.99L65.51 237.92L66.01 234.49L66.51 230.69L67.01 226.53L67.51 222.01L68.01 217.13L68.51 211.92L69.01 206.39L69.51 200.56L70.01 194.46L70.51 188.11L71.01 181.55L71.51 174.79L72.00 167.89L72.50 160.87L73.00 153.77L73.50 146.62L74.00 139.46L74.50 132.33L75.00 125.25L75.50 118.26L76.00 111.40L76.50 104.69L77.00 98.16L77.50 91.83L78.00 85.74L78.49 79.90L78.99 74.34L79.49 69.06L79.99 64.10L80.49 59.45L80.99 55.13L81.49 51.16L81.99 47.53L82.49 44.25L82.99 41.32L83.49 38.75L83.99 36.53L84.49 34.67L84.98 33.15L85.48 31.97L85.98 31.12L86.48 30.60L86.98 30.40L87.48 30.51L87.98 30.92L88.48 31.61L88.98 32.57L89.48 33.80L89.98 35.28L90.48 36.99L90.98 38.93L91.47 41.08L91.97 43.42L92.47 45.95L92.97 48.64L93.47 51.50L93.97 54.49L94.47 57.62L94.97 60.87L95.47 64.22L95.97 67.67L96.47 71.20L96.97 74.81L97.47 78.48L97.96 82.20L98.46 85.96L98.96 89.75L99.46 93.57L99.96 97.41L100.46 101.25L100.96 105.09L101.46 108.93L101.96 112.75L102.46 116.55L102.96 120.33L103.46 124.08L103.96 127.79L104.45 131.47L104.95 135.10L105.45 138.68L105.95 142.21L106.45 145.69L106.95 149.11L107.45 152.47L107.95 155.77L108.45 159.00L108.95 162.18L109.45 165.28L109.95 168.32L110.45 171.29L110.94 174.19L111.44 177.02L111.94 179.78L112.44 182.47L112.94 185.09L113.44 187.64L113.94 190.13L114.44 192.54L114.94 194.89L115.44 197.16L115.94 199.37L116.44 201.52L116.94 203.60L117.43 205.61L117.93 207.56L118.43 209.45L118.93 211.28L119.43 213.04L119.93 214.75L120.43 216.41L120.93 218.00L121.43 219.54L121.93 221.03L122.43 222.46L122.93 223.85L123.43 225.18L123.92 226.47L124.42 227.71L124.92 228.90L125.42 230.05L125.92 231.15L126.42 232.22L126.92 233.24L127.42 234.23L127.92 235.17L128.42 236.08L128.92 236.96L129.42 237.79L129.92 238.60L130.41 239.37L130.91 240.12L131.41 240.83L131.91 241.51L132.41 242.17L132.91 242.80L133.41 243.40L133.91 243.98L134.41 244.53L134.91 245.06L135.41 245.57L135.91 246.06L136.41 246.52L136.90 246.97L137.40 247.39L137.90 247.80L138.40 248.19L138.90 248.57L139.40 248.92L139.90 249.26L140.40 249.59L140.90 249.90L141.40 250.20L141.90 250.49L142.40 250.76L142.90 251.02L143.39 251.27L143.89 251.50L144.39 251.73L144.89 251.95L145.39 252.15L145.89 252.35L146.39 252.54L146.89 252.72L147.39 252.89L147.89 253.05L148.39 253.21L148.89 253.36L149.39 253.50L149.88 253.63L150.38 253.76L150.88 253.88L151.38 254.00L151.88 254.11L152.38 254.22L152.88 254.32L153.38 254.42L153.88 254.51L154.38 254.60L154.88 254.68L155.38 254.76L155.88 254.83L156.37 254.91L156.87 254.97L157.37 255.04L157.87 255.10L158.37 255.16L158.87 255.22L159.37 255.27L159.87 255.32L160.37 255.37L160.87 255.42L161.37 255.46L161.87 255.50L162.37 255.54L162.87 255.58L163.36 255.62L163.86 255.65L164.36 255.68L164.86 255.71L165.36 255.74L165.86 255.77L166.36 255.80L166.86 255.82L167.36 255.85L167.86 255.87L168.36 255.89L168.86 255.91L169.36 255.93L169.85 255.95L170.35 255.97L170.85 255.98L171.35 256.00L171.85 256.02L172.35 256.03L172.85 256.04L173.35 256.06L173.85 256.07L174.35 256.08L174.85 256.09L175.35 256.10L175.85 256.11L176.34 256.12L176.84 256.13L177.34 256.14L177.84 256.15L178.34 256.16L178.84 256.16L179.34 256.17L179.84 256.18L180.34 256.18L180.84 256.19L181.34 256.19L181.84 256.20L182.34 256.20L182.83 256.21L183.33 256.21L183.83 256.22L184.33 256.22L184.83 256.23L185.33 256.23L185.83 256.23L186.33 256.24L186.83 256.24L187.33 256.24L187.83 256.25L188.33 256.25L188.83 256.25L189.32 256.25L189.82 256.26L190.32 256.26L190.82 256.26L191.32 256.26L191.82 256.27L192.32 256.27L192.82 256.27L193.32 256.27L193.82 256.27L194.32 256.27L194.82 256.27L195.32 256.28L195.81 256.28L196.31 256.28L196.81 256.28L197.31 256.28L197.81 256.28L198.31 256.28L198.81 256.28L199.31 256.28L199.81 256.29L200.31 256.29L200.81 256.29L201.31 256.29L201.81 256.29L202.30 256.29L202.80 256.29L203.30 256.29L203.80 256.29L204.30 256.29L204.80 256.29L205.30 256.29L205.80 256.29L206.30 256.29L206.80 256.29L207.30 256.29L207.80 256.29L208.30 256.29L208.79 256.29L209.29 256.29L209.79 256.29L210.29 256.30L210.79 256.30L211.29 256.30L211.79 256.30L212.29 256.30L212.79 256.30L213.29 256.30L213.79 256.30L214.29 256.30L214.79 256.30L215.28 256.30L215.78 256.30L216.28 256.30L216.78 256.30L217.28 256.30L217.78 256.30L218.28 256.30L218.78 256.30L219.28 256.30L219.78 256.30L220.28 256.30L220.78 256.30L221.28 256.30L221.77 256.30L222.27 256.30L222.77 256.30L223.27 256.30L223.77 256.30L224.27 256.30L224.77 256.30L225.27 256.30L225.77 256.30L226.27 256.30L226.77 256.30L227.27 256.30L227.77 256.30L228.26 256.30L228.76 256.30L229.26 256.30L229.76 256.30L230.26 256.30L230.76 256.30L231.26 256.30L231.76 256.30L232.26 256.30L232.76 256.30L233.26 256.30L233.76 256.30L234.26 256.30L234.75 256.30L235.25 256.30L235.75 256.30L236.25 256.30L236.75 256.30L237.25 256.30L237.75 256.30L238.25 256.30L238.75 256.30L239.25 256.30L239.75 256.30L240.25 256.30L240.75 256.30L241.24 256.30L241.74 256.30L242.24 256.30L242.74 256.30L243.24 256.30L243.74 256.30L244.24 256.30L244.74 256.30L245.24 256.30L245.74 256.30L246.24 256.30L246.74 256.30L247.24 256.30L247.73 256.30L248.23 256.30L248.73 256.30L249.23 256.30L249.73 256.30L250.23 256.30L250.73 256.30L251.23 256.30L251.73 256.30L252.23 256.30L252.73 256.30L253.23 256.30L253.73 256.30L254.22 256.30L254.72 256.30L255.22 256.30L255.72 256.30L256.22 256.30L256.72 256.30L257.22 256.30L257.72 256.30L258.22 256.30L258.72 256.30L259.22 256.30L259.72 256.30L260.22 256.30L260.72 256.30L261.21 256.30L261.71 256.30L262.21 256.30L262.71 256.30L263.21 256.30L263.71 256.30L264.21 256.30L264.71 256.30L265.21 256.30L265.71 256.30L266.21 256.30L266.71 256.30L267.21 256.30L267.70 256.30L268.20 256.30L268.70 256.30L269.20 256.30L269.70 256.30L270.20 256.30L270.70 256.30L271.20 256.30L271.70 256.30L272.20 256.30L272.70 256.30L273.20 256.30L273.70 256.30L274.19 256.30L274.69 256.30L275.19 256.30L275.69 256.30L276.19 256.30L276.69 256.30L277.19 256.30L277.69 256.30L278.19 256.30L278.69 256.30L279.19 256.30L279.69 256.30L280.19 256.30L280.68 256.30L281.18 256.30L281.68 256.30L282.18 256.30L282.68 256.30L283.18 256.30L283.68 256.30L284.18 256.30L284.68 256.30L285.18 256.30L285.68 256.30L286.18 256.30L286.68 256.30L287.17 256.30L287.67 256.30L288.17 256.30L288.67 256.30L289.17 256.30L289.67 256.30L290.17 256.30L290.67 256.30L291.17 256.30L291.67 256.30L292.17 256.30L292.67 256.30L293.17 256.30L293.66 256.30L294.16 256.30L294.66 256.30L295.16 256.30L295.66 256.30L296.16 256.30L296.66 256.30L297.16 256.30L297.66 256.30L298.16 256.30L298.66 256.30L299.16 256.30L299.66 256.30L300.15 256.30L300.65 256.30L301.15 256.30L301.65 256.30L302.15 256.30L302.65 256.30L303.15 256.30L303.65 256.30L304.15 256.30L304.65 256.30L305.15 256.30L305.65 256.30L306.15 256.30L306.64 256.30L307.14 256.30L307.64 256.30L308.14 256.30L308.64 256.30L309.14 256.30L309.64 256.30L310.14 256.30L310.64 256.30L311.14 256.30L311.64 256.30L312.14 256.30L312.64 256.30L313.13 256.30L313.63 256.30L314.13 256.30L314.63 256.30L315.13 256.30L315.63 256.30L316.13 256.30L316.63 256.30L317.13 256.30L317.63 256.30L318.13 256.30L318.63 256.30L319.13 256.30L319.62 256.30L320.12 256.30L320.62 256.30L321.12 256.30L321.62 256.30L322.12 256.30L322.62 256.30L323.12 256.30L323.62 256.30L324.12 256.30L324.62 256.30L325.12 256.30L325.62 256.30L326.11 256.30L326.61 256.30L327.11 256.30L327.61 256.30L328.11 256.30L328.61 256.30L329.11 256.30L329.61 256.30L330.11 256.30L330.61 256.30L331.11 256.30L331.61 256.30L332.11 256.30L332.60 256.30L333.10 256.30L333.60 256.30L334.10 256.30L334.60 256.30L335.10 256.30L335.60 256.30L336.10 256.30L336.60 256.30L337.10 256.30L337.60 256.30L338.10 256.30L338.60 256.30L339.09 256.30L339.59 256.30L340.09 256.30L340.59 256.30L341.09 256.30L341.59 256.30L342.09 256.30L342.59 256.30L343.09 256.30L343.59 256.30L344.09 256.30L344.59 256.30L345.09 256.30L345.58 256.30L346.08 256.30L346.58 256.30L347.08 256.30L347.58 256.30L348.08 256.30L348.58 256.30L349.08 256.30L349.58 256.30L350.08 256.30L350.58 256.30L351.08 256.30L351.58 256.30L352.07 256.30L352.57 256.30L353.07 256.30L353.57 256.30L354.07 256.30L354.57 256.30L355.07 256.30L355.57 256.30L356.07 256.30L356.57 256.30L357.07 256.30L357.57 256.30L358.07 256.30L358.57 256.30L359.06 256.30L359.56 256.30L360.06 256.30L360.56 256.30L361.06 256.30L361.56 256.30L362.06 256.30L362.56 256.30L363.06 256.30L363.56 256.30L364.06 256.30L364.56 256.30L365.06 256.30L365.55 256.30L366.05 256.30L366.55 256.30L367.05 256.30L367.55 256.30L368.05 256.30L368.55 256.30L369.05 256.30L369.55 256.30L370.05 256.30L370.55 256.30L371.05 256.30L371.55 256.30L372.04 256.30L372.54 256.30L373.04 256.30L373.54 256.30L374.04 256.30L374.54 256.30L375.04 256.30L375.54 256.30L376.04 256.30L376.54 256.30L377.04 256.30L377.54 256.30L378.04 256.30L378.53 256.30L379.03 256.30L379.53 256.30L380.03 256.30L380.53 256.30L381.03 256.30L381.53 256.30L382.03 256.30L382.53 256.30L383.03 256.30L383.53 256.30L384.03 256.30L384.53 256.30L385.02 256.30L385.52 256.30L386.02 256.30L386.52 256.30L387.02 256.30L387.52 256.30L388.02 256.30L388.52 256.30L389.02 256.30L389.52 256.30L390.02 256.30L390.52 256.30L391.02 256.30L391.51 256.30L392.01 256.30L392.51 256.30L393.01 256.30L393.51 256.30L394.01 256.30L394.51 256.30L395.01 256.30L395.51 256.30L396.01 256.30L396.51 256.30L397.01 256.30L397.51 256.30L398.00 256.30L398.50 256.30L399.00 256.30L399.50 256.30L400.00 256.30L400.50 256.30L401.00 256.30" stroke="#f00" stroke-width="1.3" fill="none"/></g><rect x="51.5" y="11.2" width="350.0" height="244.7" fill="none" stroke="#1a1a1a" stroke-width="1"/><path d="M51.50 256.00v-7.0M51.50 11.25v7.0M86.50 256.00v-3.5M86.50 11.25v3.5M121.50 256.00v-7.0M121.50 11.25v7.0M156.50 256.00v-3.5M156.50 11.25v3.5M191.50 256.00v-7.0M191.50 11.25v7.0M226.50 256.00v-3.5M226.50 11.25v3.5M261.50 256.00v-7.0M261.50 11.25v7.0M296.50 256.00v-3.5M296.50 11.25v3.5M331.50 256.00v-7.0M331.50 11.25v7.0M366.50 256.00v-3.5M366.50 11.25v3.5M401.50 256.00v-7.0M401.50 11.25v7.0M51.50 256.00h7.0M401.50 256.00h-7.0M51.50 244.88h3.5M401.50 244.88h-3.5M51.50 233.75h3.5M401.50 233.75h-3.5M51.50 222.62h3.5M401.50 222.62h-3.5M51.50 211.50h3.5M401.50 211.50h-3.5M51.50 200.38h7.0M401.50 200.38h-7.0M51.50 189.25h3.5M401.50 189.25h-3.5M51.50 178.12h3.5M401.50 178.12h-3.5M51.50 167.00h3.5M401.50 167.00h-3.5M51.50 155.88h3.5M401.50 155.88h-3.5M51.50 144.75h7.0M401.50 144.75h-7.0M51.50 133.62h3.5M401.50 133.62h-3.5M51.50 122.50h3.5M401.50 122.50h-3.5M51.50 111.38h3.5M401.50 111.38h-3.5M51.50 100.25h3.5M401.50 100.25h-3.5M51.50 89.12h7.0M401.50 89.12h-7.0M51.50 78.00h3.5M401.50 78.00h-3.5M51.50 66.88h3.5M401.50 66.88h-3.5M51.50 55.75h3.5M401.50 55.75h-3.5M51.50 44.62h3.5M401.50 44.62h-3.5M51.50 33.50h7.0M401.50 33.50h-7.0M51.50 22.38h3.5M401.50 22.38h-3.5" stroke="#000" stroke-width="0.85" fill="none"/></svg>
<div class="t" style="left:31.1px;top:-0.6px;font-size:14.5px;">b)</div>
<div class="t yl" style="top:249.1px;">0</div>
<div class="t yl" style="top:193.5px;">50</div>
<div class="t yl" style="top:137.8px;">100</div>
<div class="t yl" style="top:82.2px;">150</div>
<div class="t yl" style="top:26.6px;">200</div>
<div class="t xl" style="left:31.3px;top:258.4px;">0</div>
<div class="t xl" style="left:101.3px;top:258.4px;">0.01</div>
<div class="t xl" style="left:171.3px;top:258.4px;">0.02</div>
<div class="t xl" style="left:241.3px;top:258.4px;">0.03</div>
<div class="t xl" style="left:311.3px;top:258.4px;">0.04</div>
<div class="t xl" style="left:381.3px;top:258.4px;">0.05</div>
<div class="t" style="left:217.7px;top:273.5px;font-size:17px;line-height:17px;"><span class="lam">λ</span><sub>2</sub></div>
<div class="t" id="ylab" style="left:0;top:0;font-size:17px;line-height:17px;transform-origin:0 0;transform:translate(-0.6px,165.6px) rotate(-90deg);"><i>P</i><sub>2</sub><span style="margin-left:1.3px">(</span><span class="lam">λ</span><sub>2</sub>,<span style="margin-left:-0.5px">ϕ</span><sub>c</sub><span style="margin-left:0.1px">)</span></div>
</body></html>
